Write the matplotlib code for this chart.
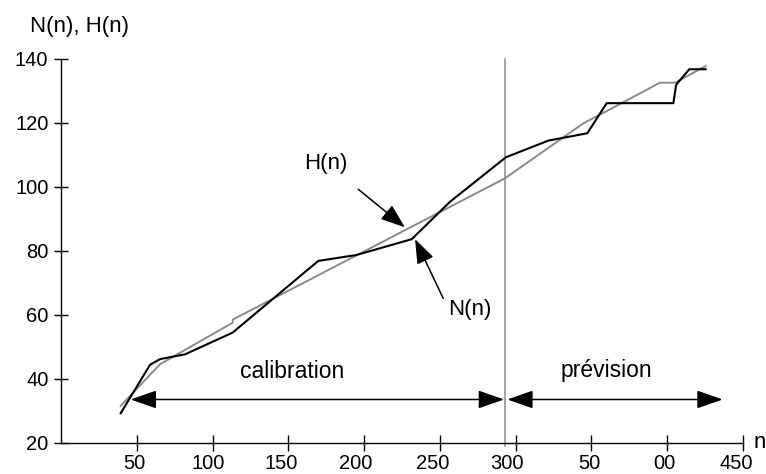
import matplotlib
matplotlib.use('Agg')
import numpy as np
from matplotlib import pyplot as plt
from matplotlib.patches import FancyArrowPatch
from matplotlib.transforms import ScaledTranslation

plt.rcParams['font.family'] = ['Liberation Sans', 'DejaVu Sans']

# observed series N(n)
n_obs = [39.4, 58.7, 65.3, 81.8, 113.3, 169.8, 195.0, 231.5, 256.8, 293.7,
         321.7, 347.4, 360.2, 404.2, 406.0, 414.7, 425.5]
N_obs = [29.3, 44.4, 46.2, 47.7, 54.5, 76.9, 78.75, 83.7, 95.4, 109.3,
         114.5, 116.8, 126.2, 126.2, 131.9, 136.8, 136.8]

# model series H(n)
n_mod = [39.4, 65.3, 113.3, 113.5, 293.0, 344.8, 361.3, 395.4, 405.3, 425.5]
H_mod = [31.6, 44.6, 57.6, 58.6, 102.7, 119.9, 124.0, 132.6, 132.6, 137.8]

x_ticks = [50, 100, 150, 200, 250, 300, 350, 400, 450]
x_labels = ['50', '100', '150', '200', '250', '300', '50', '00', '450']
y_ticks = [20, 40, 60, 80, 100, 120, 140]

n_split = 293
calib_range = (46, 292.4)
prev_range = (294.6, 436.7)
arrow_level = 33.6

# the labels in the original sit a little left of their ticks (pixels)
label_shift = [-2, -4.5, -7, -8, -7, -9, -2, -2.7, -6]

fig = plt.figure(figsize=(7.66, 4.74), dpi=100)
ax = fig.add_axes([61 / 766, 31 / 474, 681.75 / 766, 384 / 474])
ax.set_xlim(0, 450)
ax.set_ylim(20, 140)

ax.plot(n_mod, H_mod, '-', color='#8a8a8a', lw=1.4, zorder=3)
ax.plot(n_obs, N_obs, '-', color='black', lw=1.5, zorder=4)
ax.plot([n_split, n_split], [19.2, 140], '-', color='#8a8a8a', lw=1.1,
        clip_on=False, zorder=2)

for sp in ['top', 'right']:
    ax.spines[sp].set_visible(False)
for sp in ['left', 'bottom']:
    ax.spines[sp].set_linewidth(1.0)

ax.set_xticks(x_ticks)
ax.set_xticklabels(x_labels)
ax.set_yticks(y_ticks)
ax.tick_params(axis='x', direction='inout', length=12, width=1, pad=2,
               labelsize=14.5)
ax.tick_params(axis='y', direction='inout', length=10, width=1, pad=4,
               labelsize=14.5)
for lab, dx in zip(ax.get_xticklabels(), label_shift):
    lab.set_transform(lab.get_transform() +
                      ScaledTranslation(dx / 100, 0, fig.dpi_scale_trans))


def arrow(p0, p1, style):
    arr = FancyArrowPatch(p0, p1, arrowstyle=style, mutation_scale=1,
                          shrinkA=0, shrinkB=0, color='black', lw=1.1,
                          zorder=5)
    ax.add_patch(arr)


# calibration / prevision spans
arrow((calib_range[0], arrow_level), (calib_range[1], arrow_level),
      '<|-|>,head_length=16,head_width=5.6')
arrow((prev_range[0], arrow_level), (prev_range[1], arrow_level),
      '<|-|>,head_length=16,head_width=5.6')

ax.text(152.8, 40.2, 'calibration', ha='center', va='baseline', fontsize=16.5)
ax.text(360.3, 40.5, 'prévision', ha='center', va='baseline', fontsize=16.5)

# curve labels
ax.text(174.7, 107.4, 'H(n)', ha='center', va='center', fontsize=16)
arrow((196.2, 99.3), (227, 87.4), '-|>,head_length=15,head_width=5.5')
ax.text(269.6, 61.6, 'N(n)', ha='center', va='center', fontsize=16)
arrow((252.3, 65.2), (233.7, 83.7), '-|>,head_length=15,head_width=5.5')

fig.text(30 / 766, 1 - 32 / 474, 'N(n), H(n)', ha='left', va='baseline',
         fontsize=16)
fig.text(754 / 766, 1 - 448 / 474, 'n', ha='left', va='baseline', fontsize=16)

plt.savefig('out.png', dpi=100)
plt.close(fig)
